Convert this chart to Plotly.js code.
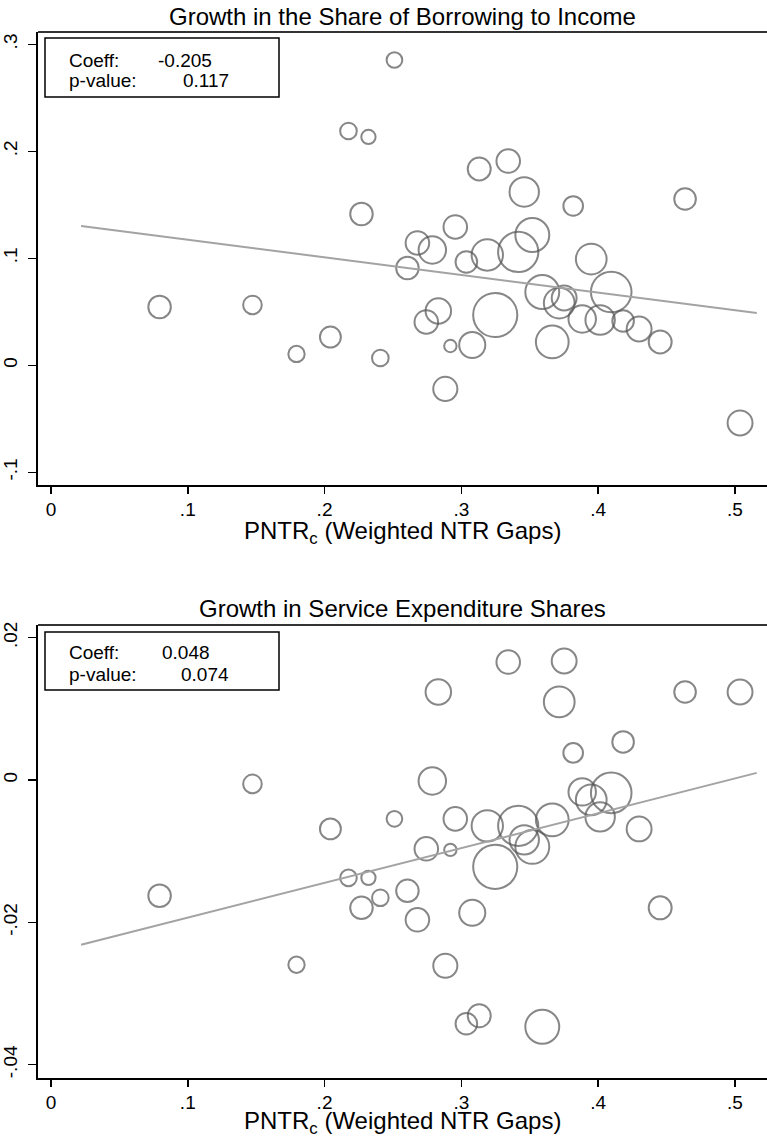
<!DOCTYPE html>
<html>
<head>
<meta charset="utf-8">
<script src="https://cdn.plot.ly/plotly-3.0.1.min.js"></script>
<style>
  html, body { margin: 0; padding: 0; background: #fff; }
  #chart { width: 767px; height: 1142px; }
</style>
</head>
<body>
<div id="chart"></div>
<script>
// ---- Data ----
const pntr = [0.2511, 0.2175, 0.2321, 0.3131, 0.3343, 0.3460, 0.3818, 0.4636, 0.2270, 0.2956,
              0.2679, 0.2788, 0.3037, 0.3190, 0.3416, 0.3519, 0.2606, 0.3950, 0.3592, 0.3716,
              0.3752, 0.4096, 0.3884, 0.4015, 0.4183, 0.4300, 0.4454, 0.2832, 0.2744, 0.3248,
              0.2920, 0.3080, 0.3665, 0.2408, 0.2883, 0.5038, 0.0794, 0.1473, 0.2043, 0.1795];

const borrowGrowth = [0.2853, 0.2190, 0.2134, 0.1835, 0.1909, 0.1620, 0.1489, 0.1554, 0.1414, 0.1293,
                      0.1143, 0.1078, 0.0965, 0.1031, 0.1059, 0.1218, 0.0909, 0.0993, 0.0685, 0.0582,
                      0.0629, 0.0685, 0.0433, 0.0423, 0.0414, 0.0339, 0.0218, 0.0507, 0.0405, 0.0470,
                      0.0180, 0.0190, 0.0218, 0.0068, -0.0221, -0.0539, 0.0545, 0.0564, 0.0264, 0.0106];

const serviceGrowth = [-0.00546, -0.01375, -0.01375, -0.03312, 0.01658, -0.00841, 0.00381, 0.01237, -0.01796, -0.00546,
                       -0.01964, -0.00013, -0.03425, -0.00644, -0.00644, -0.00939, -0.01557, -0.00279, -0.03467, 0.01097,
                       0.01672, -0.00181, -0.00167, -0.00518, 0.00535, -0.00687, -0.01796, 0.01237, -0.00967, -0.01220,
                       -0.00981, -0.01866, -0.00560, -0.01655, -0.02610, 0.01237, -0.01627, -0.00055, -0.00687, -0.02596];

// relative weights (circle area)
const weights = [0.64, 0.72, 0.53, 1.37, 1.44, 2.25, 1.00, 1.21, 1.32, 1.44,
                 1.44, 1.96, 1.21, 2.56, 4.20, 2.99, 1.32, 2.46, 2.99, 2.46,
                 1.61, 4.28, 1.96, 2.25, 1.21, 1.61, 1.37, 1.69, 1.44, 5.06,
                 0.40, 1.77, 2.79, 0.72, 1.51, 1.61, 1.32, 0.90, 1.14, 0.69];

// fitted lines (end points)
const fitX = [0.022, 0.516];
const fitBorrow = [0.1302, 0.0489];
const fitService = [-0.02315, 0.00100];

const xTickVals = [0, 0.1, 0.2, 0.3, 0.4, 0.5];
const xTickText = ['0', '.1', '.2', '.3', '.4', '.5'];
const yTopVals = [-0.1, 0, 0.1, 0.2, 0.3];
const yTopText = ['-.1', '0', '.1', '.2', '.3'];
const yBotVals = [-0.04, -0.02, 0, 0.02];
const yBotText = ['-.04', '-.02', '0', '.02'];

const titles = ['Growth in the Share of Borrowing to Income', 'Growth in Service Expenditure Shares'];
const xTitle = 'PNTR<sub>c</sub> (Weighted NTR Gaps)';
const statsTop = {coeff: '-0.205', pval: '0.117'};
const statsBot = {coeff: '0.048', pval: '0.074'};

// ---- Styles ----
const FONT = 'Liberation Sans, Arial, sans-serif';
const markerStyle = {
  color: 'rgba(0,0,0,0)',
  sizemode: 'area',
  sizeref: 0.0052,
  line: {color: '#555555', width: 2}
};

const traces = [
  {x: pntr, y: borrowGrowth, xaxis: 'x', yaxis: 'y', type: 'scatter', mode: 'markers',
   marker: Object.assign({size: weights}, markerStyle), hoverinfo: 'x+y', showlegend: false},
  {x: fitX, y: fitBorrow, xaxis: 'x', yaxis: 'y', type: 'scatter', mode: 'lines',
   line: {color: '#a3a3a3', width: 2}, showlegend: false},
  {x: pntr, y: serviceGrowth, xaxis: 'x2', yaxis: 'y2', type: 'scatter', mode: 'markers',
   marker: Object.assign({size: weights}, markerStyle), hoverinfo: 'x+y', showlegend: false},
  {x: fitX, y: fitService, xaxis: 'x2', yaxis: 'y2', type: 'scatter', mode: 'lines',
   line: {color: '#a3a3a3', width: 2}, showlegend: false}
];

const H = 1142;
const W = 729;
const topDom = [1 - 485 / H, 1 - 32 / H];
const botDom = [1 - 1078 / H, 1 - 625 / H];

function xAxis(anchor) {
  return {
    anchor: anchor, domain: [0, 1], range: [-0.0095, 0.5235],
    tickmode: 'array', tickvals: xTickVals, ticktext: xTickText,
    ticks: 'outside', ticklen: 7, tickwidth: 1.5, tickcolor: '#000',
    showline: true, linecolor: '#000', linewidth: 2,
    showgrid: false, zeroline: false,
    tickfont: {family: FONT, size: 19, color: '#000'},
    ticklabelstandoff: -1
  };
}
function yAxis(anchor, dom, range, vals, text) {
  return {
    anchor: anchor, domain: dom, range: range,
    tickmode: 'array', tickvals: vals, ticktext: text,
    ticks: 'outside', ticklen: 8, tickwidth: 1.5, tickcolor: '#000',
    tickangle: -90,
    showline: true, linecolor: '#000', linewidth: 2,
    showgrid: false, zeroline: false,
    tickfont: {family: FONT, size: 19, color: '#000'},
    ticklabelstandoff: 3
  };
}

function txt(x, y, text, anchor, size) {
  return {xref: 'paper', yref: 'paper', x: (x - 38) / W, y: 1 - y / H,
          xanchor: anchor, yanchor: 'middle', text: text, showarrow: false,
          font: {family: FONT, size: size, color: '#000'}};
}

const layout = {
  width: 767, height: 1142,
  margin: {l: 38, r: 0, t: 0, b: 0},
  paper_bgcolor: '#fff', plot_bgcolor: '#fff',
  font: {family: FONT, color: '#000'},
  showlegend: false,
  xaxis: xAxis('y'),
  yaxis: yAxis('x', topDom, [-0.1119, 0.3115], yTopVals, yTopText),
  xaxis2: xAxis('y2'),
  yaxis2: yAxis('x2', botDom, [-0.04187, 0.02178], yBotVals, yBotText),
  shapes: [
    {type: 'line', xref: 'x domain', yref: 'y domain', x0: 0, x1: 1, y0: 1, y1: 1, line: {color: '#333', width: 2}},
    {type: 'line', xref: 'x2 domain', yref: 'y2 domain', x0: 0, x1: 1, y0: 1, y1: 1, line: {color: '#333', width: 2}},
    {type: 'rect', xref: 'x domain', yref: 'y domain', x0: 0.0096, x1: 0.3306, y0: 0.8565, y1: 0.9868,
     line: {color: '#000', width: 1.5}, fillcolor: 'rgba(0,0,0,0)'},
    {type: 'rect', xref: 'x2 domain', yref: 'y2 domain', x0: 0.0096, x1: 0.3306, y0: 0.8566, y1: 0.9846,
     line: {color: '#000', width: 1.5}, fillcolor: 'rgba(0,0,0,0)'}
  ],
  annotations: [
    txt(402.5, 16, titles[0], 'center', 24),
    txt(402.5, 608, titles[1], 'center', 24),
    txt(402.5, 532, xTitle, 'center', 24),
    txt(402.5, 1122, xTitle, 'center', 24),
    // top stats
    txt(67, 60, 'Coeff:', 'left', 19),
    txt(214, 60, statsTop.coeff, 'right', 19),
    txt(67, 81, 'p-value:', 'left', 19),
    txt(231, 81, statsTop.pval, 'right', 19),
    // bottom stats
    txt(67, 652, 'Coeff:', 'left', 19),
    txt(212, 652, statsBot.coeff, 'right', 19),
    txt(67, 674, 'p-value:', 'left', 19),
    txt(231, 674, statsBot.pval, 'right', 19)
  ]
};

Plotly.newPlot('chart', traces, layout, {staticPlot: true, displayModeBar: false});
</script>
</body>
</html>
